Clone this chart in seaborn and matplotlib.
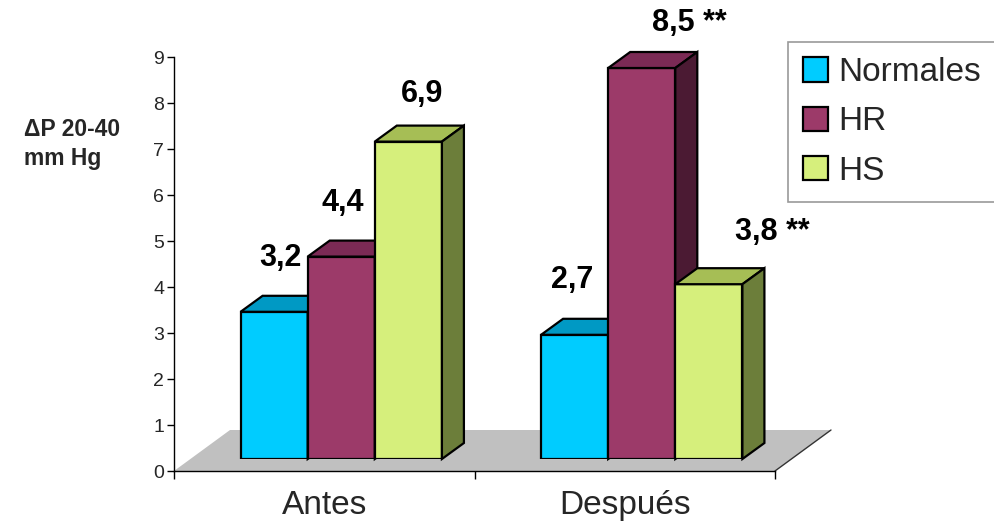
import numpy as np
import pandas as pd
import matplotlib
matplotlib.use("Agg")
import matplotlib.pyplot as plt
from matplotlib.patches import Polygon, Patch
import seaborn as sns

# ---- data ----
categories = ["Antes", "Después"]
groups = ["Normales", "HR", "HS"]
normales = [3.2, 2.7]
hr = [4.4, 8.5]
hs = [6.9, 3.8]
significance = {("Después", "HR"): "**", ("Después", "HS"): "**"}
y_ticks = list(range(0, 10))
y_label = "ΔP 20-40\nmm Hg"

# ---- styles ----
front_colors = ["#00CCFF", "#9C3A69", "#D6EF7C"]
top_colors = ["#0099C4", "#7B2A55", "#A6BE55"]
side_colors = ["#007A99", "#4B1A33", "#6C7E3A"]

sns.set_theme(style="white")
plt.rcParams["font.family"] = ["Liberation Sans", "DejaVu Sans"]

df = pd.DataFrame({
    "Momento": categories * 3,
    "Grupo": [g for g in groups for _ in categories],
    "valor": normales + hr + hs,
})

W, H = 995, 521
fig = plt.figure(figsize=(W / 100, H / 100), dpi=100)

ax_px_w, ax_px_h = 601, 414
ax = fig.add_axes([174 / W, 50 / H, ax_px_w / W, ax_px_h / H])
ax_b = fig.add_axes([191 / W, 62 / H, ax_px_w / W, ax_px_h / H])

for a in (ax, ax_b):
    a.set_xlim(-0.5, 1.5)
    a.set_ylim(0, 9)

px_per_x = ax_px_w / 2.0
px_per_y = ax_px_h / 9.0

# floor (main axes)
fdx, fdy = 56 / px_per_x, 41 / px_per_y
floor = Polygon([(-0.5, 0), (1.5, 0), (1.5 + fdx, fdy), (-0.5 + fdx, fdy)],
                closed=True, facecolor="#C0C0C0", edgecolor="none",
                clip_on=False, zorder=0.5)
ax.add_patch(floor)
ax.plot([1.5, 1.5 + fdx], [0, fdy], color="#333333", lw=1, clip_on=False, zorder=0.6)

ax.patch.set_alpha(0)
for s in ["top", "right"]:
    ax.spines[s].set_visible(False)
for s in ["left", "bottom"]:
    ax.spines[s].set_color("black")
    ax.spines[s].set_linewidth(1)
    ax.spines[s].set_zorder(1)
ax.set_yticks(y_ticks)
ax.set_yticklabels([str(t) for t in y_ticks], fontsize=14)
ax.set_xticks([-0.5, 0.5, 1.5])
ax.set_xticklabels([])
ax.set_xticks([0, 1], minor=True)
ax.set_xticklabels(categories, minor=True, fontsize=24)
ax.tick_params(axis="y", left=True, length=5, width=1, color="black", pad=2)
ax.tick_params(axis="x", which="major", bottom=True, length=6, width=1, color="black")
ax.tick_params(axis="x", which="minor", bottom=True, length=0, pad=14)
ax.set_xlabel("")
ax.set_ylabel("")

# bars
sns.barplot(data=df, x="Momento", y="valor", hue="Grupo", order=categories,
            hue_order=groups, palette=front_colors, width=0.67, saturation=1,
            errorbar=None, edgecolor="black", linewidth=1.6, legend=False, ax=ax_b)
ax_b.set_xlim(-0.5, 1.5)
ax_b.set_ylim(0, 9)
ax_b.axis("off")
ax_b.patch.set_alpha(0)

ddx, ddy = 22 / px_per_x, 16 / px_per_y
bars = []
for j, cont in enumerate(ax_b.containers):
    for i, bar in enumerate(cont):
        bars.append((bar.get_x(), j, i, bar))
bars.sort(key=lambda t: t[0])

label_dx = {("Antes", "Normales"): 6, ("Antes", "HR"): 2, ("Antes", "HS"): 14,
            ("Después", "Normales"): -2, ("Después", "HR"): 48, ("Después", "HS"): 63}
label_dy = {("Antes", "Normales"): 54, ("Antes", "HR"): 54, ("Antes", "HS"): 48,
            ("Después", "Normales"): 55, ("Después", "HR"): 45, ("Después", "HS"): 52}

for rank, (x0, j, i, bar) in enumerate(bars):
    z = 3 + rank
    w = bar.get_width()
    h = bar.get_height()
    bar.set_zorder(z)
    top = Polygon([(x0, h), (x0 + w, h), (x0 + w + ddx, h + ddy), (x0 + ddx, h + ddy)],
                  closed=True, facecolor=top_colors[j], edgecolor="black",
                  linewidth=1.6, clip_on=False, zorder=z)
    side = Polygon([(x0 + w, 0), (x0 + w + ddx, ddy), (x0 + w + ddx, h + ddy), (x0 + w, h)],
                   closed=True, facecolor=side_colors[j], edgecolor="black",
                   linewidth=1.6, clip_on=False, zorder=z)
    ax_b.add_patch(top)
    ax_b.add_patch(side)
    key = (categories[i], groups[j])
    txt = f"{h:.1f}".replace(".", ",")
    if key in significance:
        txt += " " + significance[key]
    ax_b.annotate(txt, xy=(x0 + w / 2, h), xytext=(label_dx[key], label_dy[key]),
                  textcoords="offset pixels", ha="center", va="center",
                  fontsize=22, fontweight="bold", color="black",
                  annotation_clip=False, zorder=20)

# y label
fig.text(24 / W, 1 - 144 / H, y_label, ha="left", va="center", fontsize=16.5,
         fontweight="bold", linespacing=1.3)

# legend
handles = [Patch(facecolor=front_colors[k], edgecolor="black", linewidth=1.6)
           for k in range(3)]
leg = fig.legend(handles, groups, loc="upper left",
                 bbox_to_anchor=(788 / W, 1 - 42 / H), fontsize=24,
                 frameon=True, fancybox=False, shadow=False,
                 handlelength=0.75, handleheight=0.75, handletextpad=0.3,
                 labelspacing=0.55, borderpad=0.45, borderaxespad=0)
leg.get_frame().set_edgecolor("#808080")
leg.get_frame().set_linewidth(1.2)

fig.savefig("out.png", dpi=100)
